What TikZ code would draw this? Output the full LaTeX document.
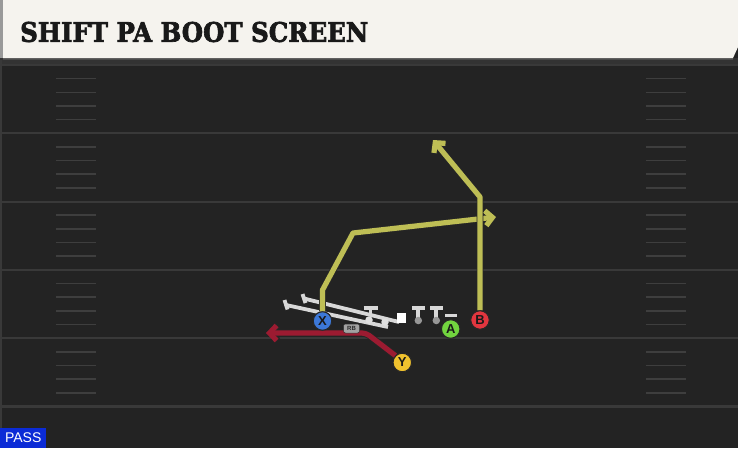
\documentclass[tikz,border=0pt]{standalone}
\usepackage{fontspec}
\usetikzlibrary{arrows.meta}
\setmainfont{DejaVu Serif}
\newfontfamily\titlefont{DejaVu Serif}[BoldFeatures={FakeBold=2.6}]
\newfontfamily\labelfont{Liberation Sans}
\definecolor{fieldbg}{HTML}{232323}
\definecolor{fieldline}{HTML}{393939}
\definecolor{hashcol}{HTML}{3E3E3E}
\definecolor{headbg}{HTML}{F5F3EE}
\definecolor{routeyel}{HTML}{BEBE55}
\definecolor{routered}{HTML}{9C1B31}
\definecolor{olgray}{HTML}{D8D8D8}
\definecolor{xblue}{HTML}{3C78D8}
\definecolor{bred}{HTML}{E2363F}
\definecolor{agreen}{HTML}{72D43F}
\definecolor{yyellow}{HTML}{F0C22E}
\definecolor{passblue}{HTML}{0B2BD6}
\tikzset{
  player/.style={circle, draw=black!85, line width=1pt, minimum size=18.5pt, inner sep=0pt,
    font=\labelfont\bfseries\fontsize{13}{13}\selectfont, text=black!90},
  route/.style={line width=5.2pt, line join=round,
    preaction={draw=black!85, line width=6.8pt}},
  tipA/.style={-{Straight Barb[length=7pt,width=15pt]}},
  ol/.style={draw=olgray, line width=3.8pt},
  oldot/.style={circle, fill=olgray!80, inner sep=0pt, minimum size=7.5pt},
  rbtag/.style={fill=olgray!75!black, draw=black!80, line width=0.5pt, rounded corners=2pt,
    minimum width=16pt, minimum height=9pt, inner sep=0pt,
    font=\labelfont\bfseries\fontsize{6}{6}\selectfont, text=black!85},
}
\begin{document}
\begin{tikzpicture}[x=1pt, y=-1pt]
\useasboundingbox (0,0) rectangle (738,448);
% field
\fill[fieldbg] (0,0) rectangle (738,448);
\fill[black!80] (0,58) rectangle (738,64);
\draw[fieldline, line width=1.2pt] (1,60) -- (1,448);
\foreach \k in {0,...,5} {
  \draw[fieldline, line width=2.2pt] (0,65+68.3*\k) -- (738,65+68.3*\k);
}
\foreach \k in {0,...,4} {
  \foreach \j in {1,...,4} {
    \draw[hashcol, line width=1.6pt] (56,65+68.3*\k+13.66*\j) -- (96,65+68.3*\k+13.66*\j);
    \draw[hashcol, line width=1.6pt] (646,65+68.3*\k+13.66*\j) -- (686,65+68.3*\k+13.66*\j);
  }
}
% header
\fill[black!70] (3,57) -- (733,57) -- (733,60) -- (3,60) -- cycle;
\fill[headbg] (3,0) -- (738,0) -- (738,47) -- (733,58) -- (3,58) -- cycle;
\fill[black!40] (0,0) rectangle (3,58);
\node[anchor=west, inner sep=0pt, text=black!90] (title) at (20,32)
  {\resizebox{348pt}{20pt}{\titlefont\bfseries SHIFT PA BOOT SCREEN}};
% pass label
\node[fill=passblue, text=white, anchor=south west, inner sep=0pt, minimum width=46pt,
  minimum height=20pt, font=\labelfont\fontsize{14}{14}\selectfont] (pass) at (0,448) {PASS};
% offensive line
\draw[ol] (286,305) -- (388,327);
\draw[ol] (284.5,300) -- (287.5,309.5);
\draw[ol] (304,298.5) -- (399,322);
\draw[ol] (302.5,294) -- (305.5,303);
\draw[ol] (363.5,308) -- (377.5,308);
\draw[ol] (370.5,308) -- (370.5,316);
\node[oldot] (d1) at (369,320) {};
\node[oldot] (d2) at (385,322) {};
\fill[white] (396.5,312.5) rectangle (405.5,322.5);
\draw[ol] (412,308) -- (424.5,308);
\draw[ol] (418.3,308) -- (418.3,318);
\node[oldot, fill=olgray!70!black] (d3) at (418.3,320.5) {};
\draw[ol] (430,308) -- (442.5,308);
\draw[ol] (436.3,308) -- (436.3,318);
\node[oldot, fill=olgray!70!black] (d4) at (436.3,320.5) {};
\draw[ol] (445,315.5) -- (456.5,315.5);
% route coordinates
\coordinate (x1) at (322.5,290);
\coordinate (x2) at (353,233);
\coordinate (xend) at (496,217);
\coordinate (b1) at (480,197);
\coordinate (bend) at (433,140);
\coordinate (y1) at (366,333);
\coordinate (yend) at (266,333);
% players
\node[player, fill=xblue] (X) at (322.5,321) {X};
\node[player, fill=bred] (B) at (480,320) {B};
\node[player, fill=agreen] (A) at (450.7,329) {A};
\node[player, fill=yyellow] (Y) at (402.3,362.5) {Y};
% routes
\draw[route, routeyel, tipA] (X.north) -- (x1) -- (x2) -- (xend);
\draw[route, routeyel, tipA] (B.north) -- (b1) -- (bend);
\draw[route, routered, tipA, rounded corners=4pt] (Y.north west) -- (y1) -- (yend);
% players and tag on top of routes
\node[player, fill=xblue] at (X) {X};
\node[player, fill=bred] at (B) {B};
\node[player, fill=yyellow] at (Y) {Y};
\node[rbtag] (rb) at (351.5,328.5) {RB};
\end{tikzpicture}
\end{document}
